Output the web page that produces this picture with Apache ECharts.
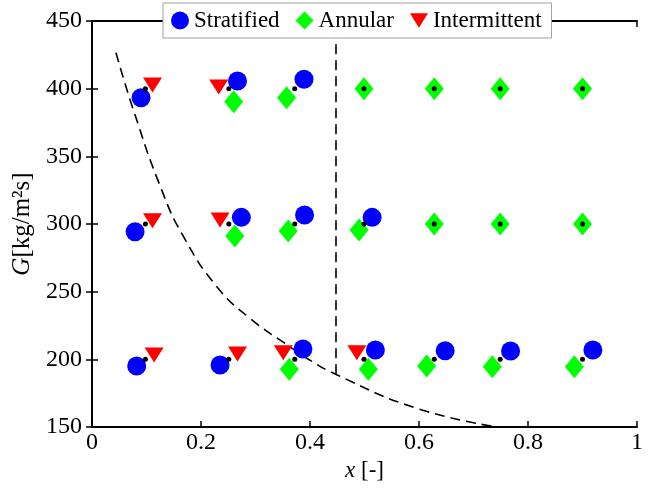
<!DOCTYPE html>
<html>
<head>
<meta charset="utf-8">
<script src="https://cdn.jsdelivr.net/npm/echarts@6/dist/echarts.min.js"></script>
<style>html,body{margin:0;padding:0;background:#fff}#c{width:654px;height:490px}</style>
</head>
<body>
<div id="c"></div>
<script>
// Stratified (circles)
var stratX = [0.090, 0.267, 0.389, 0.079, 0.274, 0.390, 0.514, 0.082, 0.235, 0.387, 0.520, 0.648, 0.768, 0.919];
var stratG = [393.3, 405.7, 406.9, 294.3, 304.9, 306.6, 304.9, 195.1, 195.8, 207.6, 206.9, 206.4, 206.2, 206.9];
// Annular (diamonds)
var annX = [0.260, 0.357, 0.499, 0.628, 0.749, 0.900, 0.262, 0.360, 0.490, 0.628, 0.749, 0.900, 0.362, 0.507, 0.614, 0.7345, 0.885];
var annG = [390.4, 393.3, 400, 400, 400, 400, 291.1, 294.8, 295.6, 300, 300, 300, 192.6, 192.6, 195.1, 194.6, 194.6];
// Intermittent (triangles)
var intX = [0.111, 0.2325, 0.111, 0.235, 0.114, 0.267, 0.351, 0.486];
var intG = [402.7, 401.2, 302.4, 302.9, 203.2, 203.9, 204.9, 204.9];
// Measurement points (black dots)
var ptX = [0.098, 0.251, 0.372, 0.499, 0.628, 0.749, 0.900];
var ptG = [200, 300, 400];
// Transition curve (dashed)
var curveX = [0.044, 0.076, 0.128, 0.168, 0.229, 0.290, 0.363, 0.394, 0.449, 0.596, 0.743];
var curveG = [426.6, 384.2, 325.0, 290.6, 253.7, 230.3, 209.3, 200.8, 188.6, 163.8, 150.0];
// Vertical boundary (dashed)
var vertX = [0.4477, 0.4477];
var vertG = [189.0, 450];
// Axis ticks
var xTicks = [0, 0.2, 0.4, 0.6, 0.8, 1];
var yTicks = [150, 200, 250, 300, 350, 400, 450];

function zip(a, b) { return a.map(function (v, i) { return [v, b[i]]; }); }
var dots = [];
ptG.forEach(function (g) { ptX.forEach(function (x) { dots.push([x, g]); }); });

var FONT = '"Liberation Serif", "Times New Roman", serif';
var chart = echarts.init(document.getElementById('c'));
var axLine = { lineStyle: { color: '#000', width: 1.8 } };
var axTick = { show: true, inside: true, length: 6, lineStyle: { color: '#000', width: 1.5 } };
var dash = { color: '#000', width: 1.6, type: [10, 6] };
chart.setOption({
  animation: false,
  backgroundColor: '#fff',
  textStyle: { fontFamily: FONT },
  grid: { left: 92, right: 17, top: 21, bottom: 63 },
  legend: {
    left: 163, top: 3,
    padding: [6, 10, 6, 8],
    itemWidth: 18, itemHeight: 18, itemGap: 16,
    backgroundColor: '#fff', borderColor: '#a0a0a0', borderWidth: 1,
    borderRadius: 0,
    textStyle: { fontFamily: FONT, fontSize: 23, color: '#000' },
    data: ['Stratified', 'Annular',
      { name: 'Intermittent', icon: 'path://M0,0 L20,0 L10,16 Z' }],
    z: 20
  },
  xAxis: [{
    type: 'value', min: 0, max: 1, interval: 0.2,
    axisLine: axLine, axisTick: axTick, splitLine: { show: false },
    axisLabel: { color: '#000', fontSize: 24, fontFamily: FONT, margin: 4,
      formatter: function (v) { return xTicks.indexOf(v) >= 0 ? String(v) : ''; } },
    name: '{i|x} [-]', nameLocation: 'middle', nameGap: 27,
    nameTextStyle: { color: '#000', fontSize: 23, fontFamily: FONT,
      rich: { i: { fontStyle: 'italic', fontSize: 23, fontFamily: FONT, color: '#000' } } }
  }, {
    type: 'value', min: 0, max: 1, interval: 0.2, position: 'top',
    axisLine: axLine, axisTick: axTick, axisLabel: { show: false }, splitLine: { show: false }
  }],
  yAxis: [{
    type: 'value', min: 150, max: 450, interval: 50,
    axisLine: axLine, axisTick: axTick, splitLine: { show: false },
    axisLabel: { color: '#000', fontSize: 24, fontFamily: FONT, margin: 10,
      formatter: function (v) { return yTicks.indexOf(v) >= 0 ? String(v) : ''; } },
    name: '{i|G}[kg/m²s]', nameLocation: 'middle', nameGap: 57, nameRotate: 90,
    nameTextStyle: { color: '#000', fontSize: 25, fontFamily: FONT,
      rich: { i: { fontStyle: 'italic', fontSize: 25, fontFamily: FONT, color: '#000' } } }
  }, {
    type: 'value', min: 150, max: 450, interval: 50, position: 'right',
    axisLine: axLine, axisTick: axTick, axisLabel: { show: false }, splitLine: { show: false }
  }],
  series: [
    { type: 'line', data: zip(curveX, curveG), smooth: true, symbol: 'none', silent: true,
      lineStyle: dash, z: 1 },
    { type: 'line', data: zip(vertX, vertG), symbol: 'none', silent: true,
      lineStyle: dash, z: 1 },
    { name: 'Intermittent', type: 'scatter', data: zip(intX, intG), symbol: 'triangle',
      symbolRotate: 180, symbolSize: [19, 15], itemStyle: { color: '#ff0000', opacity: 1 }, z: 3 },
    { name: 'Annular', type: 'scatter', data: zip(annX, annG), symbol: 'diamond',
      symbolSize: [19, 23], itemStyle: { color: '#00ff00', opacity: 1 }, z: 4 },
    { name: 'Stratified', type: 'scatter', data: zip(stratX, stratG), symbol: 'circle',
      symbolSize: 19, itemStyle: { color: '#0000ff', opacity: 1 }, z: 5 },
    { type: 'scatter', data: dots, symbol: 'circle', symbolSize: 5,
      itemStyle: { color: '#000', opacity: 1 }, z: 6 }
  ]
});
</script>
</body>
</html>
